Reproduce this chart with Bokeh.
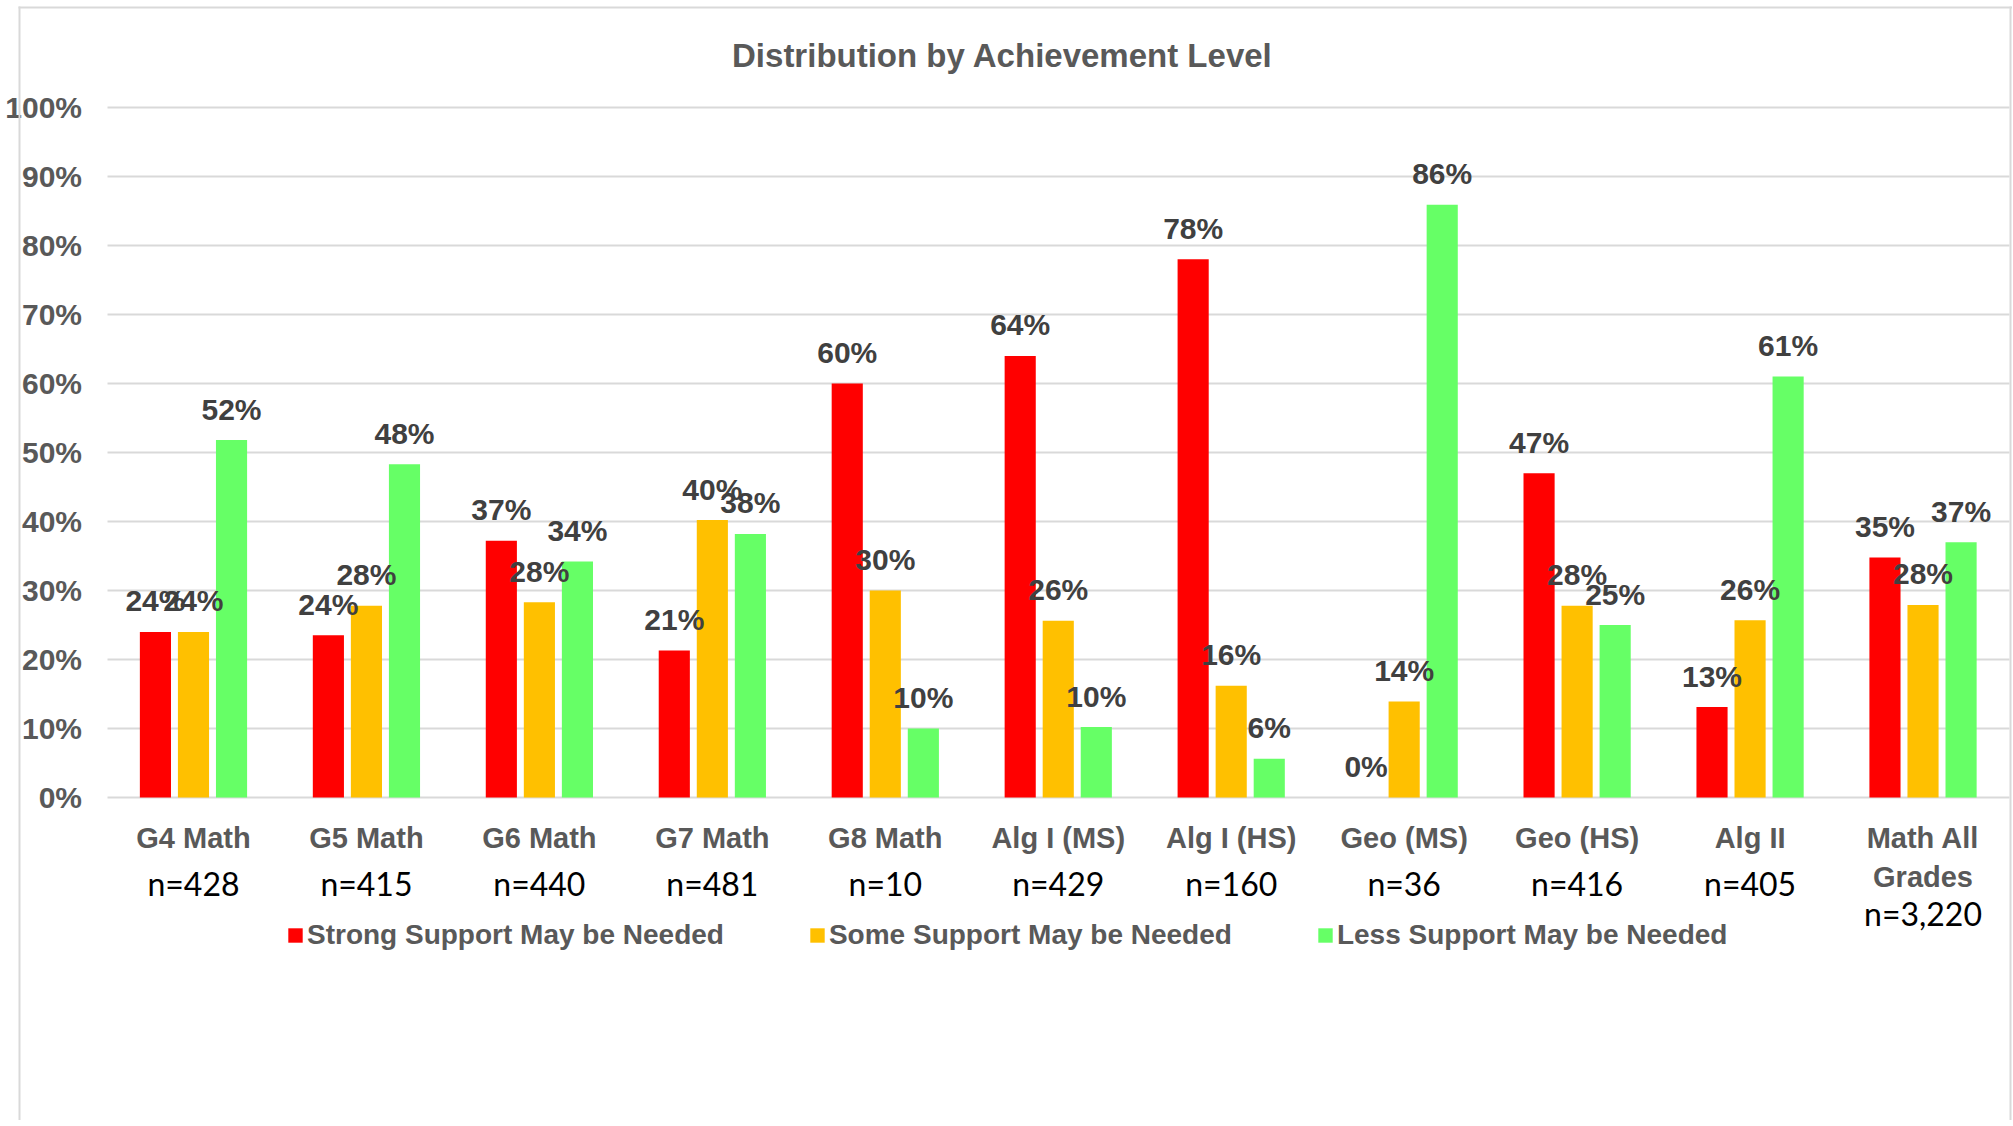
from bokeh.plotting import figure
from bokeh.models import (Range1d, FixedTicker, CustomJSTickFormatter, ColumnDataSource,
                          Label, Legend, LegendItem, LinearAxis, BoxAnnotation)
from bokeh.transform import dodge
from bokeh.core.properties import value
from bokeh.embed import file_html
from bokeh.resources import INLINE

# ---------------- data ----------------
categories = ["G4 Math", "G5 Math", "G6 Math", "G7 Math", "G8 Math", "Alg I (MS)",
              "Alg I (HS)", "Geo (MS)", "Geo (HS)", "Alg II", "Math All Grades"]
category_lines = [["G4 Math"], ["G5 Math"], ["G6 Math"], ["G7 Math"], ["G8 Math"],
                  ["Alg I (MS)"], ["Alg I (HS)"], ["Geo (MS)"], ["Geo (HS)"], ["Alg II"],
                  ["Math All", "Grades"]]
n_labels = ["n=428", "n=415", "n=440", "n=481", "n=10", "n=429", "n=160", "n=36",
            "n=416", "n=405", "n=3,220"]
strong = [24.0, 23.5, 37.2, 21.3, 60.0, 64.0, 78.0, 0.0, 47.0, 13.1, 34.8]
some = [24.0, 27.8, 28.3, 40.2, 30.0, 25.6, 16.2, 13.9, 27.8, 25.7, 27.9]
less = [51.8, 48.3, 34.2, 38.2, 10.0, 10.2, 5.6, 85.9, 25.0, 61.0, 37.0]
series_names = ["Strong Support May be Needed", "Some Support May be Needed",
                "Less Support May be Needed"]
series_colors = ["#FF0000", "#FFC000", "#66FF66"]
y_ticks = [0, 10, 20, 30, 40, 50, 60, 70, 80, 90, 100]
title_text = "Distribution by Achievement Level"

# ---------------- layout constants (pixels) ----------------
W, H = 2012, 1120
CAT_LEFT, CAT_RIGHT = 106.5, 2009  # screen x where the category band starts / ends
PX_TOP, PX_ZERO = 107, 797         # screen y of the 100% and 0% lines
ppu = (PX_ZERO - PX_TOP) / 100.0
n_cat = len(categories)
cat_w = (CAT_RIGHT - CAT_LEFT) / n_cat


def y_at(py):
    return (PX_ZERO - py) / ppu


def x_at(px):
    return (px - CAT_LEFT) / cat_w


GRAY = "#595959"
GRID = "#D9D9D9"
FONT = "Liberation Sans"

xs = [i + 0.5 for i in range(n_cat)]  # category centres on the x scale

p = figure(x_range=Range1d(x_at(0), x_at(W)), y_range=Range1d(y_at(H), y_at(0)),
           width=W, height=H, output_backend="svg", toolbar_location=None, min_border=0)
p.outline_line_color = None
p.background_fill_color = "white"
p.border_fill_color = "white"

p.xgrid.grid_line_color = None
p.ygrid.grid_line_color = GRID
p.ygrid.grid_line_width = 2
p.ygrid.ticker = FixedTicker(ticks=y_ticks)
try:
    p.ygrid.cross_bounds = (0, n_cat)
    grid_ok = True
except Exception:
    grid_ok = False
if not grid_ok:
    p.ygrid.grid_line_color = None
    p.segment(x0=[0] * len(y_ticks), x1=[n_cat] * len(y_ticks), y0=y_ticks, y1=y_ticks,
              line_color=GRID, line_width=2)

# y axis, pinned to the start of the category band
ya = p.yaxis[0]
ya.fixed_location = 0
ya.ticker = FixedTicker(ticks=y_ticks)
ya.formatter = CustomJSTickFormatter(code="return tick + '%';")
ya.axis_line_color = None
ya.major_tick_line_color = None
ya.minor_tick_line_color = None
ya.major_label_standoff = 19
ya.major_label_text_font = FONT
ya.major_label_text_font_style = "bold"
ya.major_label_text_font_size = "30px"
ya.major_label_text_color = GRAY


def style_cat_axis(ax, standoff):
    ax.fixed_location = 0
    ax.axis_line_color = None
    ax.major_tick_line_color = None
    ax.minor_tick_line_color = None
    ax.major_label_standoff = standoff
    ax.major_label_text_font = FONT
    ax.major_label_text_font_style = "bold"
    ax.major_label_text_font_size = "29px"
    ax.major_label_text_color = GRAY


# category names (first line), pinned at the 0% line
xa = p.xaxis[0]
style_cat_axis(xa, 18)
xa.ticker = FixedTicker(ticks=xs)
xa.major_label_overrides = {x: ln[0] for x, ln in zip(xs, category_lines)}

# second line of wrapped category names
wrapped = [(x, ln[1]) for x, ln in zip(xs, category_lines) if len(ln) > 1]
xa2 = LinearAxis(ticker=FixedTicker(ticks=[x for x, _ in wrapped]))
style_cat_axis(xa2, 18 + 39)
xa2.major_label_overrides = {x: t for x, t in wrapped}
p.add_layout(xa2, "below")

# ---------------- bars + value labels ----------------
def pct(v):
    return f"{int(v + 0.5)}%"

src = ColumnDataSource(dict(
    x=xs,
    strong=strong, some=some, less=less,
    strong_lbl=[pct(v) for v in strong],
    some_lbl=[pct(v) for v in some],
    less_lbl=[pct(v) for v in less],
))
keys = ["strong", "some", "less"]
offsets = [-0.22, 0.0, 0.22]
renderers = []
for key, off, color in zip(keys, offsets, series_colors):
    r = p.vbar(x=dodge("x", off), top=key, bottom=0, width=0.18, source=src,
               fill_color=color, line_color=None)
    renderers.append(r)
for key, off in zip(keys, offsets):
    p.text(x=dodge("x", off), y=key, text=key + "_lbl", source=src,
           text_align="center", text_baseline="middle", y_offset=-31,
           text_font=value(FONT), text_font_style="bold",
           text_font_size="30px", text_color="#404040")

# ---------------- n= labels under the category names ----------------
n_src = ColumnDataSource(dict(
    x=xs, n=n_labels,
    noff=[86 + 30 * (len(ln) - 1) for ln in category_lines],
))
p.text(x="x", y=0, text="n", y_offset="noff", source=n_src,
       text_align="center", text_baseline="middle",
       text_font=value("Lato"), text_font_size="32px", text_color="black")

# ---------------- legend ----------------
legend = Legend(items=[LegendItem(label=nm, renderers=[r]) for nm, r in zip(series_names, renderers)],
                orientation="horizontal", location=(286, H - 923 - 28),
                glyph_width=18, glyph_height=18, label_standoff=3, spacing=84,
                padding=0, margin=0, border_line_color=None, background_fill_alpha=0,
                label_text_font=FONT, label_text_font_style="bold",
                label_text_font_size="28px", label_text_color=GRAY)
p.add_layout(legend, "center")

# ---------------- title ----------------
p.add_layout(Label(x=x_at(1002), y=y_at(55), text=title_text,
                   text_align="center", text_baseline="middle",
                   text_font=FONT, text_font_style="bold",
                   text_font_size="33px", text_color=GRAY))

# ---------------- chart-area border ----------------
for l, r_, t, b in [(18, 20, 6, H), (18, 2012, 6, 8), (2009, 2011, 6, H)]:
    p.add_layout(BoxAnnotation(left=x_at(l), right=x_at(r_), top=y_at(t), bottom=y_at(b),
                               fill_color=GRID, fill_alpha=1, line_color=None))

open("out.html", "w").write(file_html(p, INLINE))
